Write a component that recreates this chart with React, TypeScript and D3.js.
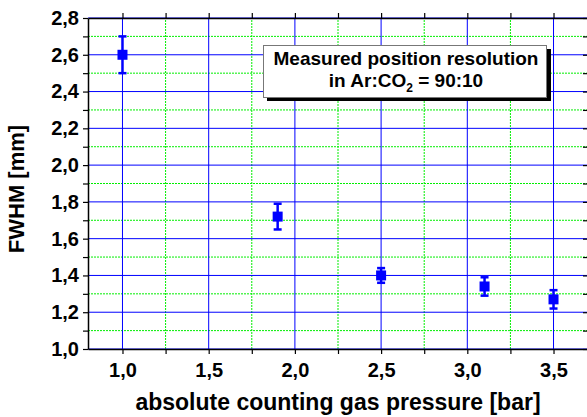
import { useEffect, useRef } from "react";
import * as d3 from "d3";

// measured values
const pressures = [1.0, 1.9, 2.5, 3.1, 3.5];
const fwhm = [2.6, 1.72, 1.4, 1.34, 1.27];
const errors = [0.1, 0.07, 0.04, 0.05, 0.05];

const xMajor = [1.0, 1.5, 2.0, 2.5, 3.0, 3.5];
const xMinor = [1.25, 1.75, 2.25, 2.75, 3.25];
const yMajor = [1.0, 1.2, 1.4, 1.6, 1.8, 2.0, 2.2, 2.4, 2.6, 2.8];
const yMinor = [1.1, 1.3, 1.5, 1.7, 1.9, 2.1, 2.3, 2.5, 2.7];

const fmt = (v: number) => v.toFixed(1).replace(".", ",");

export default function App() {
  const svgRef = useRef<SVGSVGElement>(null);

  useEffect(() => {
    const width = 587;
    const height = 417;
    const margin = { top: 18, right: -1, bottom: 68, left: 88 };
    const font = "Liberation Sans, Arial, sans-serif";

    const svg = d3.select(svgRef.current).attr("width", width).attr("height", height);
    svg.selectAll("*").remove();

    const x = d3.scaleLinear().domain([0.8, 3.7]).range([margin.left, width - margin.right]);
    const y = d3.scaleLinear().domain([1.0, 2.8]).range([height - margin.bottom, margin.top]);
    const [x0, x1] = x.range();
    const [y0, y1] = y.range();

    svg.append("rect").attr("width", width).attr("height", height).attr("fill", "#fff");

    // minor grid (green dotted)
    const grid = svg.append("g");
    grid.selectAll(".vmin").data(xMinor).join("line")
      .attr("x1", (d) => x(d)).attr("x2", (d) => x(d)).attr("y1", y0).attr("y2", y1)
      .attr("stroke", "#00ee00").attr("stroke-dasharray", "2,1");
    grid.selectAll(".hmin").data(yMinor).join("line")
      .attr("y1", (d) => y(d)).attr("y2", (d) => y(d)).attr("x1", x0).attr("x2", x1)
      .attr("stroke", "#00ee00").attr("stroke-dasharray", "2,1");
    // major grid (blue)
    grid.selectAll(".vmaj").data(xMajor).join("line")
      .attr("x1", (d) => x(d)).attr("x2", (d) => x(d)).attr("y1", y0).attr("y2", y1)
      .attr("stroke", "#0000ff");
    grid.selectAll(".hmaj").data(yMajor).join("line")
      .attr("y1", (d) => y(d)).attr("y2", (d) => y(d)).attr("x1", x0).attr("x2", x1)
      .attr("stroke", "#0000ff");

    // axes
    const xTicks = [...xMajor, ...xMinor];
    const yTicks = [...yMajor, ...yMinor];
    const axisStyle = (g: any) => {
      g.attr("font-family", font).attr("font-weight", 700);
      g.select(".domain").attr("stroke", "#000").attr("stroke-width", 1.5);
      g.selectAll(".tick line").attr("stroke", "#000").attr("stroke-width", 1.2);
    };

    const bottom = svg.append("g").attr("transform", `translate(0,${y0})`)
      .call(d3.axisBottom(x).tickValues(xTicks).tickSize(5).tickSizeOuter(0)
        .tickFormat((d) => (xMajor.includes(+d) ? fmt(+d) : "")));
    axisStyle(bottom);
    bottom.selectAll("text").attr("font-size", 20).attr("fill", "#000").attr("y", 14).attr("dy", "0.71em");

    const left = svg.append("g").attr("transform", `translate(${x0},0)`)
      .call(d3.axisLeft(y).tickValues(yTicks).tickSize(5).tickSizeOuter(0)
        .tickFormat((d) => (yMajor.includes(Math.round(+d * 10) / 10) ? fmt(+d) : "")));
    axisStyle(left);
    left.selectAll("text").attr("font-size", 20).attr("fill", "#000").attr("x", -9);

    const top = svg.append("g").attr("transform", `translate(0,${y1})`)
      .call(d3.axisTop(x).tickValues(xTicks).tickSize(5).tickSizeOuter(0).tickFormat(() => ""));
    axisStyle(top);

    const right = svg.append("g").attr("transform", `translate(${x1},0)`)
      .call(d3.axisLeft(y).tickValues(yTicks).tickSize(-5).tickSizeOuter(0).tickFormat(() => ""));
    axisStyle(right);
    right.selectAll(".tick line").attr("x2", -5);

    // error bars
    const data = pressures.map((p, i) => ({ p, v: fwhm[i], e: errors[i] }));
    const eb = svg.append("g").attr("stroke", "#0000ff").attr("stroke-width", 2.5);
    eb.selectAll(".stem").data(data).join("line")
      .attr("x1", (d) => x(d.p)).attr("x2", (d) => x(d.p))
      .attr("y1", (d) => y(d.v - d.e)).attr("y2", (d) => y(d.v + d.e));
    eb.selectAll(".capT").data(data).join("line")
      .attr("x1", (d) => x(d.p) - 4).attr("x2", (d) => x(d.p) + 4)
      .attr("y1", (d) => y(d.v + d.e)).attr("y2", (d) => y(d.v + d.e));
    eb.selectAll(".capB").data(data).join("line")
      .attr("x1", (d) => x(d.p) - 4).attr("x2", (d) => x(d.p) + 4)
      .attr("y1", (d) => y(d.v - d.e)).attr("y2", (d) => y(d.v - d.e));

    // markers
    svg.append("g").selectAll("rect").data(data).join("rect")
      .attr("x", (d) => x(d.p) - 5).attr("y", (d) => y(d.v) - 5)
      .attr("width", 10).attr("height", 10).attr("fill", "#0000ff");

    // legend box
    const lg = svg.append("g").attr("font-family", font).attr("font-weight", 700);
    lg.append("rect").attr("x", 267).attr("y", 49).attr("width", 284).attr("height", 52).attr("fill", "#000");
    lg.append("rect").attr("x", 263.5).attr("y", 45.5).attr("width", 283).attr("height", 52)
      .attr("fill", "#fff").attr("stroke", "#777").attr("stroke-width", 1);
    lg.append("text").attr("x", 406).attr("y", 65).attr("text-anchor", "middle")
      .attr("font-size", 19).text("Measured position resolution");
    const t2 = lg.append("text").attr("x", 406).attr("y", 87).attr("text-anchor", "middle")
      .attr("font-size", 19);
    t2.append("tspan").text("in Ar:CO");
    t2.append("tspan").attr("font-size", 12).attr("dy", 5).text("2");
    t2.append("tspan").attr("dy", -5).text(" = 90:10");

    // axis titles
    svg.append("text").attr("x", 338).attr("y", 410).attr("text-anchor", "middle")
      .attr("font-family", font).attr("font-size", 23).attr("font-weight", 700)
      .text("absolute counting gas pressure [bar]");
    svg.append("text").attr("transform", `translate(24,189) rotate(-90)`)
      .attr("text-anchor", "middle").attr("font-family", font).attr("font-size", 22)
      .attr("font-weight", 700).text("FWHM [mm]");
  }, []);

  return <svg ref={svgRef} style={{ position: "absolute", left: 0, top: 0 }}></svg>;
}
